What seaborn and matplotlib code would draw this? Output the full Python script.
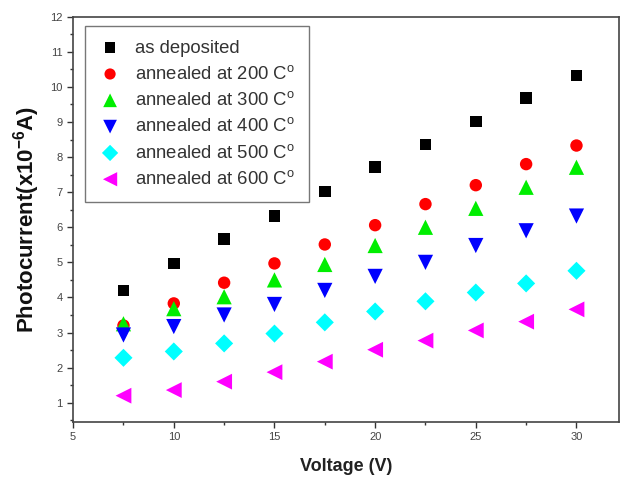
import matplotlib
matplotlib.use("Agg")
import matplotlib.pyplot as plt
import seaborn as sns
import pandas as pd
from matplotlib.ticker import MultipleLocator

voltage = [7.5, 10, 12.5, 15, 17.5, 20, 22.5, 25, 27.5, 30]
as_deposited = [4.20, 4.97, 5.66, 6.33, 7.02, 7.72, 8.36, 9.01, 9.68, 10.33]
annealed_200 = [3.20, 3.83, 4.42, 4.97, 5.51, 6.06, 6.66, 7.20, 7.80, 8.33]
annealed_300 = [3.25, 3.68, 4.02, 4.50, 4.94, 5.48, 6.00, 6.54, 7.14, 7.71]
annealed_400 = [2.93, 3.17, 3.50, 3.80, 4.20, 4.60, 5.00, 5.48, 5.90, 6.32]
annealed_500 = [2.28, 2.46, 2.69, 2.97, 3.29, 3.60, 3.89, 4.14, 4.40, 4.76]
annealed_600 = [1.20, 1.36, 1.60, 1.87, 2.17, 2.51, 2.77, 3.06, 3.31, 3.66]

labels = ["as deposited", "annealed at 200 C$^{\\mathrm{o}}$", "annealed at 300 C$^{\\mathrm{o}}$",
          "annealed at 400 C$^{\\mathrm{o}}$", "annealed at 500 C$^{\\mathrm{o}}$", "annealed at 600 C$^{\\mathrm{o}}$"]
series = [as_deposited, annealed_200, annealed_300, annealed_400, annealed_500, annealed_600]
colors = ["#000000", "#ff0000", "#00ee00", "#0000ff", "#00ffff", "#ff00ff"]
markers = ["s", "o", "^", "v", "D", "<"]
sizes = [70, 80, 120, 120, 85, 130]

sns.set_style("ticks")
plt.rcParams["font.family"] = ["Liberation Sans", "DejaVu Sans"]
plt.rcParams["mathtext.fontset"] = "custom"
plt.rcParams["mathtext.rm"] = "Liberation Sans"
plt.rcParams["mathtext.bf"] = "Liberation Sans:bold"

fig = plt.figure(figsize=(6.25, 4.79), dpi=100)
ax = fig.add_axes([0.117, 0.119, 0.873, 0.846])

for lab, vals, c, m, s in zip(labels, series, colors, markers, sizes):
    df = pd.DataFrame({"Voltage": voltage, "I": vals})
    sns.scatterplot(data=df, x="Voltage", y="I", ax=ax, color=c, marker=m,
                    s=s, edgecolor="none", label=lab)

ax.set_xlim(5, 32.1)
ax.set_ylim(0.45, 12)
ax.xaxis.set_major_locator(MultipleLocator(5))
ax.xaxis.set_minor_locator(MultipleLocator(2.5))
ax.yaxis.set_major_locator(MultipleLocator(1))
ax.yaxis.set_minor_locator(MultipleLocator(0.5))
ax.tick_params(which="major", direction="out", length=4, width=1, labelsize=8,
               colors="#333333", labelcolor="#444444")
ax.tick_params(which="minor", direction="out", length=2, width=1, colors="#333333")
ax.tick_params(top=False, right=False, which="both")
for sp in ax.spines.values():
    sp.set_color("#444444")
    sp.set_linewidth(1.2)

ax.set_xlabel("Voltage (V)", fontsize=13, fontweight="bold", color="#222222", labelpad=11)
ax.set_ylabel("Photocurrent(x10$^{\\mathbf{-6}}$A)", fontsize=16, fontweight="bold",
              color="#111111", labelpad=6)

leg = ax.legend(loc="upper left", bbox_to_anchor=(0.022, 0.978), fontsize=13.3,
                frameon=True, fancybox=False, edgecolor="#555555",
                labelspacing=0.45, handlelength=1.2, handletextpad=0.75,
                borderpad=0.75, borderaxespad=0.0, markerscale=0.9)
leg.get_frame().set_linewidth(1.0)
for t in leg.get_texts():
    t.set_color("#333333")

fig.savefig("out.png", dpi=100)
